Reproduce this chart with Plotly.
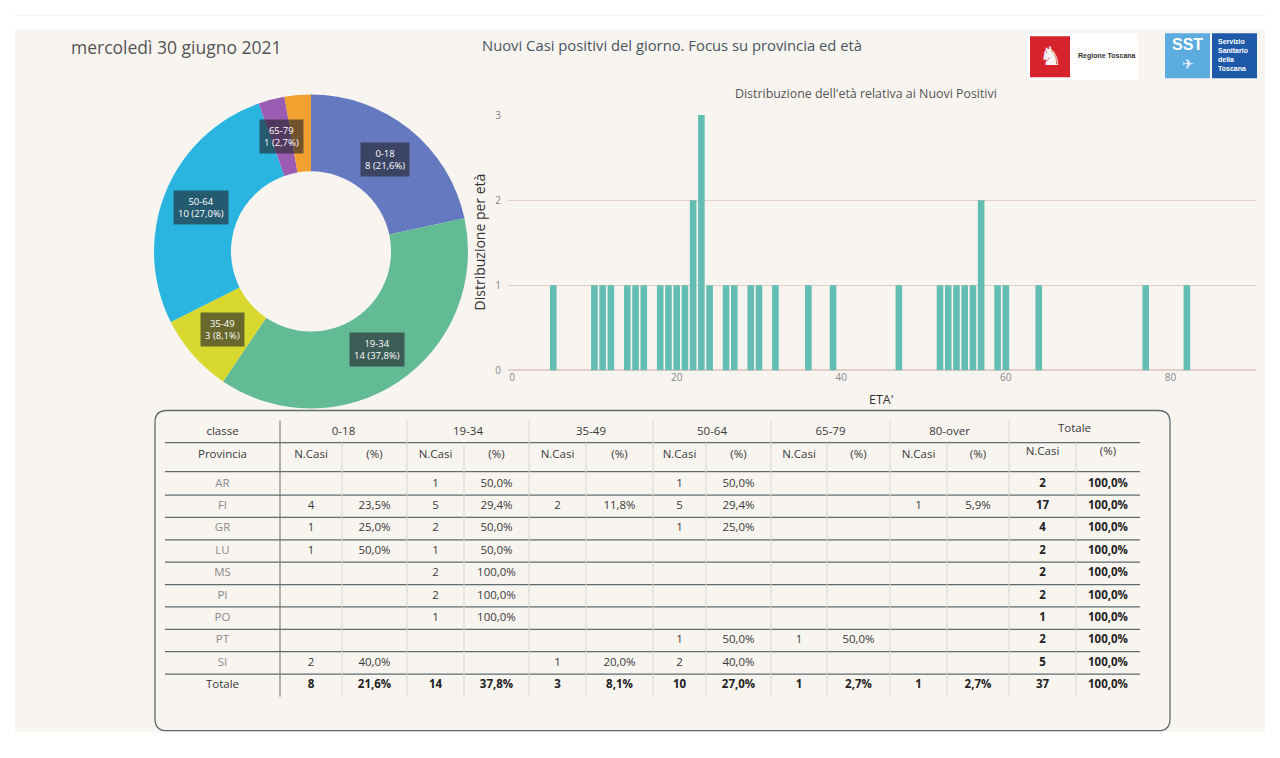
import plotly.graph_objects as go
import math

# ---------------- DATA ----------------
age_classes = ["0-18", "19-34", "35-49", "50-64", "65-79", "80-over"]
class_counts = [8, 14, 3, 10, 1, 1]
class_colors = ["#6479bf", "#63bb95", "#d8d82e", "#29b5e0", "#9b5db3", "#f2a130"]

ages = [5, 10, 11, 12, 14, 15, 16, 18, 19, 20, 21, 22, 23, 24, 26, 27, 29, 30, 32,
        36, 39, 47, 52, 53, 54, 55, 56, 57, 59, 60, 64, 77, 82]
age_counts = [1, 1, 1, 1, 1, 1, 1, 1, 1, 1, 1, 2, 3, 1, 1, 1, 1, 1, 1,
              1, 1, 1, 1, 1, 1, 1, 1, 2, 1, 1, 1, 1, 1]

provinces = ["AR", "FI", "GR", "LU", "MS", "PI", "PO", "PT", "SI"]
cases_0_18 = [None, 4, 1, 1, None, None, None, None, 2]
cases_19_34 = [1, 5, 2, 1, 2, 2, 1, None, None]
cases_35_49 = [None, 2, None, None, None, None, None, None, 1]
cases_50_64 = [1, 5, 1, None, None, None, None, 1, 2]
cases_65_79 = [None, None, None, None, None, None, None, 1, None]
cases_80_over = [None, 1, None, None, None, None, None, None, None]

date_text = "mercoledì 30 giugno 2021"
main_title = "Nuovi Casi positivi del giorno. Focus su provincia ed età"
hist_title = "Distribuzione dell'età relativa ai Nuovi Positivi"
hist_ytitle = "Distribuzione per età"
hist_xtitle = "ETA'"

# ---------------- LAYOUT HELPERS ----------------
PW, PH = 1280, 758
OFF = 8
W, H = PW - 2 * OFF, PH - 2 * OFF
SY = 774 / 758          # vertical compensation for how the page is photographed
FONT = "Open Sans"


def Y(y):
    return y * SY - OFF


def px(x):
    return (x - OFF) / W


def py(y):
    return 1 - (Y(y) - OFF) / H


def pct(v):
    return f"{v:.1f}%".replace(".", ",")


shapes = []
annotations = []


def ann(x, y, text, size, color, family=FONT, xanchor="center", **kw):
    d = dict(x=px(x), y=py(y), xref="paper", yref="paper", showarrow=False,
             xanchor=xanchor, yanchor="middle", text=text,
             font=dict(family=family, size=size, color=color))
    d.update(kw)
    annotations.append(d)


# page / card
shapes.append(dict(type="line", xref="paper", yref="paper", x0=px(15), x1=px(1265),
                   y0=py(15), y1=py(15), line=dict(color="#eeeeee", width=1), layer="below"))
shapes.append(dict(type="rect", xref="paper", yref="paper", x0=px(15), x1=px(1265),
                   y0=py(731), y1=py(29), fillcolor="#f8f4f0", line=dict(width=0), layer="below"))

fig = go.Figure()

# ---------------- DONUT ----------------
cx, cy, R_out = 311, 251, 157
hole = 0.51
fig.add_trace(go.Pie(
    labels=age_classes, values=class_counts, sort=False, direction="clockwise",
    rotation=0, hole=hole, textinfo="none", hoverinfo="label+value+percent",
    marker=dict(colors=class_colors, line=dict(width=0)),
    domain=dict(x=[px(cx - R_out), px(cx + R_out)], y=[py(cy + R_out), py(cy - R_out)]),
    showlegend=False,
))

total = sum(class_counts)
r_lab = R_out * (1 + hole) / 2
cum = 0
last_pos = None
for lab, v in zip(age_classes, class_counts):
    th = 2 * math.pi * (cum + v / 2) / total
    cum += v
    lx = cx + r_lab * math.sin(th)
    ly = cy - r_lab * math.cos(th)
    if last_pos is not None and math.hypot(lx - last_pos[0], ly - last_pos[1]) < 30:
        continue
    last_pos = (lx, ly)
    ann(lx, ly, f"{lab}<br>{v} ({pct(100 * v / total)})", 9.5, "white",
        bgcolor="rgba(35,35,45,0.62)", borderpad=4, align="center")

# ---------------- HISTOGRAM ----------------
fig.add_trace(go.Bar(x=ages, y=age_counts, width=0.8, marker=dict(color="#62bdb3", line=dict(width=0)),
                     showlegend=False, xaxis="x", yaxis="y"))

grid_col = "#e2cdc8"
fig.update_layout(
    xaxis=dict(domain=[px(508), px(1256)], range=[-0.5, 90.4], tickvals=[0, 20, 40, 60, 80],
               showgrid=False, zeroline=False, showline=False, ticks="",
               tickfont=dict(family=FONT, size=10, color="#888"), anchor="y", fixedrange=True),
    yaxis=dict(domain=[py(370), py(114.7)], range=[0, 3], tickvals=[0, 1, 2, 3],
               showgrid=True, gridcolor=grid_col, gridwidth=1, zeroline=True, zerolinecolor=grid_col,
               showline=False, ticks="", tickfont=dict(family=FONT, size=10, color="#888"),
               ticklabelstandoff=6, anchor="x", fixedrange=True),
)
ann(866, 93, hist_title, 12.4, "#555")
ann(479, 242, hist_ytitle, 14, "#333", textangle=-90)
ann(881, 399, hist_xtitle, 12.5, "#333")

# ---------------- HEADER TEXTS ----------------
ann(69, 47, date_text, 17.5, "#555", xanchor="left")
ann(672, 45, main_title, 14.8, "#4a5560")

# logos
shapes.append(dict(type="rect", xref="paper", yref="paper", x0=px(1028), x1=px(1138), y0=py(80), y1=py(33),
                   fillcolor="#ffffff", line=dict(width=0)))
shapes.append(dict(type="rect", xref="paper", yref="paper", x0=px(1030), x1=px(1070), y0=py(77), y1=py(36),
                   fillcolor="#d7232c", line=dict(width=0)))
ann(1050, 56, "♞", 26, "#f4f4f4", family="DejaVu Sans")
ann(1076, 56, "<b>Regione Toscana</b>", 7, "#333", family="Liberation Sans", xanchor="left")
shapes.append(dict(type="rect", xref="paper", yref="paper", x0=px(1165), x1=px(1210), y0=py(78), y1=py(33),
                   fillcolor="#5cace0", line=dict(width=0)))
ann(1187, 44, "<b>SST</b>", 16, "white", family="Liberation Sans")
ann(1188, 64, "✈", 14, "#e8f0f8", family="DejaVu Sans")
shapes.append(dict(type="rect", xref="paper", yref="paper", x0=px(1212), x1=px(1257), y0=py(78), y1=py(33),
                   fillcolor="#1f5aa8", line=dict(width=0)))
ann(1216, 55, "<b>Servizio<br>Sanitario<br>della<br>Toscana</b>", 7, "white",
    family="Liberation Sans", xanchor="left", align="left")

# ---------------- TABLE ----------------
L, T, Rr, B, rad = 155, 410, 1170, 730, 12
rx, ry = rad / W, rad / H
path = (f"M {px(L)+rx},{py(T)} L {px(Rr)-rx},{py(T)} Q {px(Rr)},{py(T)} {px(Rr)},{py(T)-ry} "
        f"L {px(Rr)},{py(B)+ry} Q {px(Rr)},{py(B)} {px(Rr)-rx},{py(B)} "
        f"L {px(L)+rx},{py(B)} Q {px(L)},{py(B)} {px(L)},{py(B)+ry} "
        f"L {px(L)},{py(T)-ry} Q {px(L)},{py(T)} {px(L)+rx},{py(T)} Z")
shapes.append(dict(type="path", xref="paper", yref="paper", path=path,
                   line=dict(color="#5f6b70", width=1.3)))

group_bounds = [280, 407, 529, 653, 771, 890, 1009, 1140]
inner_bounds = [342, 464, 586, 706, 827, 947, 1076]
left_x = 165
y_h1, y_h2 = 432, 455
row0, row_step = 483.3, 22.37
hline_ys = [442, 471] + [row0 + row_step * (i + 0.5) for i in range(9)]
vbottom = 696

for yy in hline_ys:
    shapes.append(dict(type="line", xref="paper", yref="paper", x0=px(left_x), x1=px(1140),
                       y0=py(yy), y1=py(yy), line=dict(color="#5f6b70", width=1.2)))
for i, xx in enumerate(group_bounds[:-1]):
    shapes.append(dict(type="line", xref="paper", yref="paper", x0=px(xx), x1=px(xx),
                       y0=py(420), y1=py(vbottom),
                       line=dict(color="#6a6a6a" if i == 0 else "#d6d6d6", width=1)))
for xx in inner_bounds:
    shapes.append(dict(type="line", xref="paper", yref="paper", x0=px(xx), x1=px(xx),
                       y0=py(442), y1=py(vbottom), line=dict(color="#d6d6d6", width=1)))

class_cases = [cases_0_18, cases_19_34, cases_35_49, cases_50_64, cases_65_79, cases_80_over]
prov_tot = [sum(c[i] or 0 for c in class_cases) for i in range(len(provinces))]
grand = sum(prov_tot)

col_edges = [280] + sorted(group_bounds[1:-1] + inner_bounds) + [1140]
col_centers = [(col_edges[k] + col_edges[k + 1]) / 2 for k in range(len(col_edges) - 1)]


def row_y(i):
    return row0 + row_step * i


nx, ny, nt = [], [], []
bx, by, bt = [], [], []
gx, gy, gt = [], [], []
hx, hy, ht = [], [], []

# headers
hx.append((left_x + 280) / 2); hy.append(y_h1); ht.append("classe")
hx.append((left_x + 280) / 2); hy.append(y_h2); ht.append("Provincia")
groups = age_classes + ["Totale"]
for g, name in enumerate(groups):
    gx0, gx1 = col_edges[2 * g], col_edges[2 * g + 2]
    off = 3 if name == "Totale" else 0
    hx.append((gx0 + gx1) / 2); hy.append(y_h1 - off); ht.append(name)
    hx.append(col_centers[2 * g]); hy.append(y_h2 - off); ht.append("N.Casi")
    hx.append(col_centers[2 * g + 1]); hy.append(y_h2 - off); ht.append("(%)")

for i, p in enumerate(provinces):
    gx.append((left_x + 280) / 2); gy.append(row_y(i)); gt.append(p)
    for g, cc in enumerate(class_cases):
        v = cc[i]
        if v:
            nx.append(col_centers[2 * g]); ny.append(row_y(i)); nt.append(str(v))
            nx.append(col_centers[2 * g + 1]); ny.append(row_y(i)); nt.append(pct(100 * v / prov_tot[i]))
    bx.append(col_centers[12]); by.append(row_y(i)); bt.append(f"<b>{prov_tot[i]}</b>")
    bx.append(col_centers[13]); by.append(row_y(i)); bt.append("<b>" + pct(100.0) + "</b>")

ty = row_y(9)
hx.append((left_x + 280) / 2); hy.append(ty); ht.append("Totale")
for g, v in enumerate(class_counts + [grand]):
    bx.append(col_centers[2 * g]); by.append(ty); bt.append(f"<b>{v}</b>")
    bx.append(col_centers[2 * g + 1]); by.append(ty); bt.append("<b>" + pct(100 * v / grand) + "</b>")

for xs, ys, ts, col, size in [(hx, hy, ht, "#3a3a3a", 11.5), (gx, gy, gt, "#8a8a8a", 11.5),
                              (nx, ny, nt, "#3a3a3a", 11.5), (bx, by, bt, "#222222", 11.5)]:
    fig.add_trace(go.Scatter(x=xs, y=ys, text=ts, mode="text", textposition="middle center",
                             textfont=dict(family=FONT, size=size, color=col),
                             hoverinfo="skip", showlegend=False, xaxis="x3", yaxis="y3"))

fig.update_layout(
    xaxis3=dict(domain=[0, 1], range=[OFF, OFF + W], visible=False, anchor="y3", fixedrange=True),
    yaxis3=dict(domain=[0, 1], range=[(OFF + H + OFF) / SY, (OFF + OFF) / SY],
                visible=False, anchor="x3", fixedrange=True),
)

fig.update_layout(
    width=W, height=H, margin=dict(l=0, r=0, t=0, b=0),
    paper_bgcolor="white", plot_bgcolor="rgba(0,0,0,0)",
    shapes=shapes, annotations=annotations, showlegend=False,
    font=dict(family=FONT),
)

fig.write_html("out.html", config={"displayModeBar": False})
